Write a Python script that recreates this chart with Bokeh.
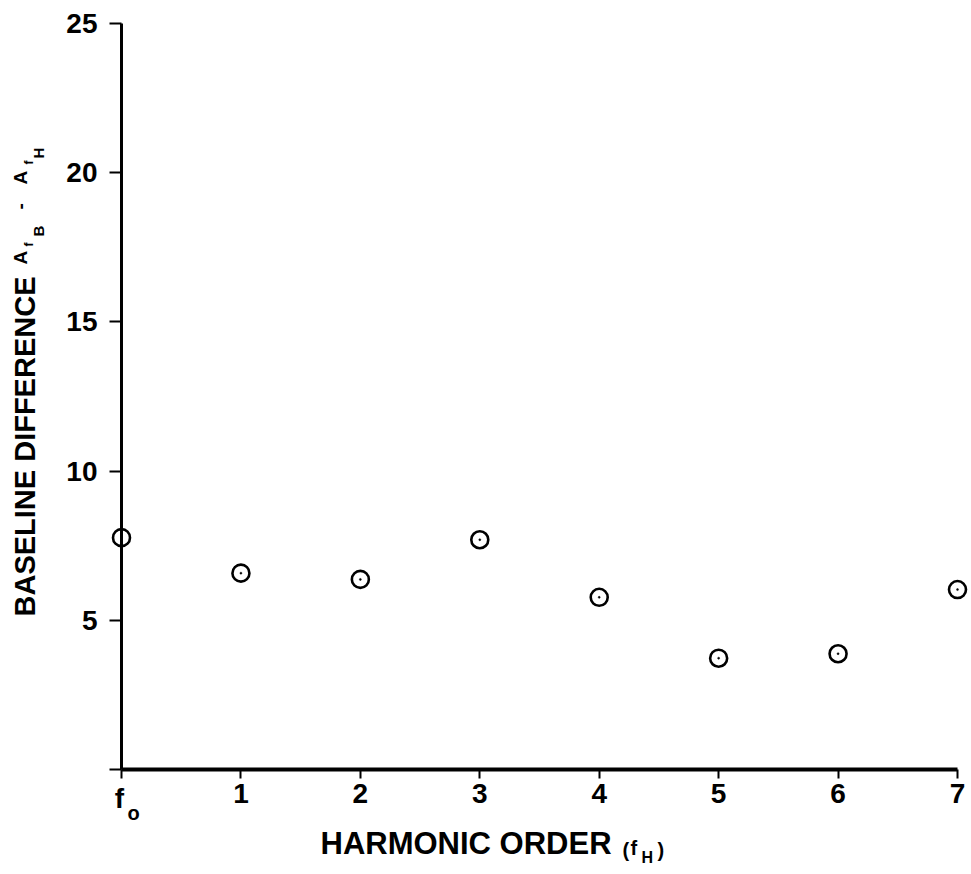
import math
from bokeh.plotting import figure
from bokeh.models import Range1d, FixedTicker, Label, LinearAxis
from bokeh.embed import file_html
from bokeh.resources import INLINE

# ---- data ----
harmonic_order = [0, 1, 2, 3, 4, 5, 6, 7]
baseline_difference = [7.77, 6.58, 6.37, 7.70, 5.77, 3.73, 3.88, 6.03]
x_ticks = [0, 1, 2, 3, 4, 5, 6, 7]
x_tick_labels = ["", "1", "2", "3", "4", "5", "6", "7"]
y_ticks = [0, 5, 10, 15, 20, 25]
y_tick_labels = ["", "5", "10", "15", "20", "25"]
x_lo, x_hi = 0, 7
y_lo, y_hi = 0, 25

FONT = "Liberation Sans"
W, H = 971, 874

# pixel placement of the axes box (layout only)
PX_L, PX_R = 121, 957     # x = x_lo, x = x_hi
PY_B, PY_T = 769, 23      # y = y_lo, y = y_hi
sx = (PX_R - PX_L) / (x_hi - x_lo)
sy = (PY_B - PY_T) / (y_hi - y_lo)
x_range = Range1d(x_lo - PX_L / sx, x_hi + (W - PX_R) / sx)
y_range = Range1d(y_lo - (H - PY_B) / sy, y_hi + PY_T / sy)

p = figure(width=W, height=H, output_backend="svg", toolbar_location=None,
           x_range=x_range, y_range=y_range,
           x_axis_type=None, y_axis_type=None,
           min_border=0, min_border_left=0, min_border_right=0,
           min_border_top=0, min_border_bottom=0)

p.grid.visible = False
p.outline_line_color = None
p.background_fill_color = "white"
p.border_fill_color = "white"

xaxis = LinearAxis(fixed_location=y_lo, bounds=(x_lo, x_hi),
                   ticker=FixedTicker(ticks=x_ticks),
                   major_label_overrides={t: l for t, l in zip(x_ticks, x_tick_labels)})
yaxis = LinearAxis(fixed_location=x_lo, bounds=(y_lo, y_hi),
                   ticker=FixedTicker(ticks=y_ticks),
                   major_label_overrides={t: l for t, l in zip(y_ticks, y_tick_labels)})

for ax in (xaxis, yaxis):
    ax.axis_line_color = "black"
    ax.major_tick_line_color = "black"
    ax.major_tick_line_width = 2
    ax.minor_tick_line_color = None
    ax.major_tick_in = 0
    ax.major_label_text_font = FONT
    ax.major_label_text_font_style = "bold"
    ax.major_label_text_font_size = "28px"
    ax.major_label_text_color = "black"
    ax.axis_label = None

yaxis.axis_line_width = 3
xaxis.axis_line_width = 4
yaxis.major_tick_out = 12
yaxis.major_label_standoff = 12
xaxis.major_tick_out = 9
xaxis.major_label_standoff = 5

p.add_layout(xaxis, "below")
p.add_layout(yaxis, "left")

# markers: open circle with a center dot
p.scatter(harmonic_order, baseline_difference, marker="circle", size=17,
          fill_color=None, line_color="black", line_width=2.6)
p.scatter(harmonic_order, baseline_difference, marker="circle", size=2,
          fill_color="black", line_color="black", line_width=0.5)

# ---- text annotations positioned relative to the axes origin ----
K = 0.4  # empirical baseline correction (fraction of font size)


def add_text(txt, px, py, size, angle=0.0, align="left", bold=True):
    if angle:
        px = px - K * size
    else:
        py = py - K * size
    p.add_layout(Label(x=x_lo, y=y_lo, x_units="data", y_units="data",
                       x_offset=px - PX_L, y_offset=PY_B - py, text=txt, angle=angle,
                       text_font=FONT, text_font_size=f"{size}px",
                       text_font_style="bold" if bold else "normal",
                       text_align=align, text_baseline="alphabetic",
                       text_color="black"))


R = math.pi / 2
# y-axis title: BASELINE DIFFERENCE A_{f_B} - A_{f_H}
add_text("BASELINE DIFFERENCE", 36, 616, 29, angle=R)
add_text("A", 28, 264, 19, angle=R)
add_text("f", 33, 246, 12, angle=R)
add_text("B", 44, 236, 15, angle=R)
add_text("-", 28, 209, 19, angle=R)
add_text("A", 28, 184, 19, angle=R)
add_text("f", 33, 164, 12, angle=R)
add_text("H", 44, 158, 15, angle=R)

# x-axis title: HARMONIC ORDER (f_H)
add_text("HARMONIC ORDER", 320, 855, 31)
add_text("(", 622, 857, 20)
add_text("f", 630, 855, 20)
add_text("H", 641, 863, 16)
add_text(")", 657, 857, 20)

# first x tick label: f_o
add_text("f", 119, 809, 28, align="center")
add_text("o", 133, 820, 20, align="center")

open("out.html", "w").write(file_html(p, INLINE))
